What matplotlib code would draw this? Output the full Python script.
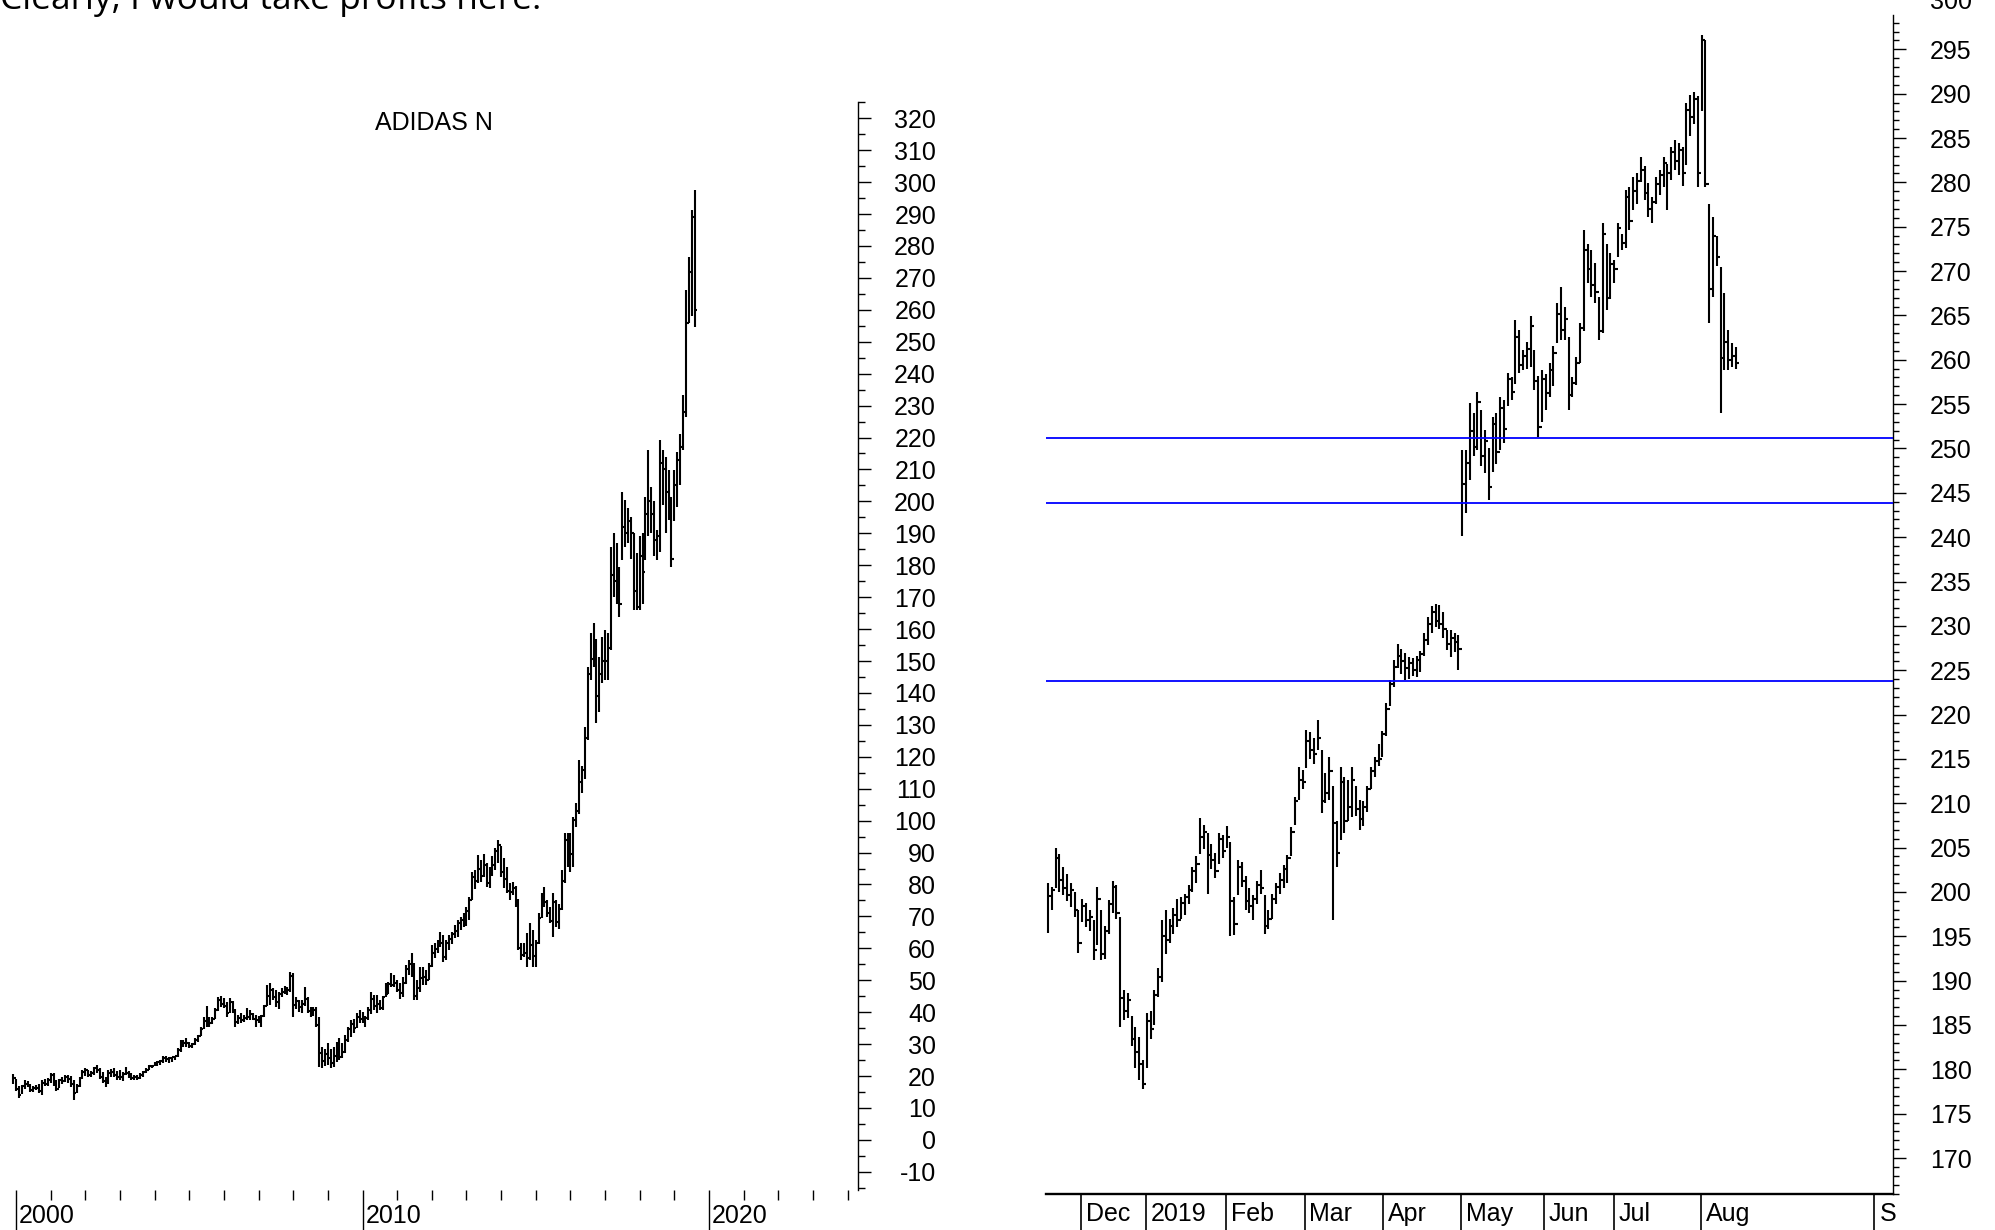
import numpy as np
import matplotlib
matplotlib.use("Agg")
import matplotlib.pyplot as plt
from matplotlib.collections import LineCollection

plt.rcParams["font.family"] = ["Liberation Sans", "DejaVu Sans"]
plt.rcParams["axes.unicode_minus"] = False

# ===== long term chart: monthly bars, Dec 1999 .. Aug 2019 =====
monthly_high = [
    20.6,
    19.0, 17.0, 17.2, 18.8, 18.3, 17.5, 16.8, 17.3, 17.6, 18.8, 19.0, 19.4,  # 2000
    20.9, 20.8, 18.8, 19.2, 19.8, 20.2, 20.4, 20.0, 18.6, 17.6, 19.8, 21.8,  # 2001
    22.4, 22.0, 21.6, 22.9, 23.4, 22.6, 21.2, 19.8, 21.9, 22.2, 22.4, 21.6,  # 2002
    21.8, 21.2, 22.9, 21.6, 20.8, 20.4, 20.3, 20.8, 21.6, 22.4, 23.4, 23.6,  # 2003
    24.4, 24.8, 25.0, 26.3, 26.2, 26.1, 26.1, 26.4, 28.7, 31.3, 31.3, 31.8,  # 2004
    30.8, 30.4, 31.8, 32.8, 35.5, 38.6, 41.9, 38.6, 38.6, 41.2, 44.6, 45.1,  # 2005
    44.4, 43.3, 44.4, 43.6, 41.0, 39.1, 39.6, 39.1, 41.2, 40.6, 39.6, 39.0,  # 2006
    38.8, 39.2, 42.2, 48.5, 49.0, 47.5, 46.8, 46.4, 47.5, 48.2, 48.0, 52.7,  # 2007
    52.4, 44.9, 43.8, 43.8, 48.0, 44.6, 41.7, 41.7, 41.7, 38.6, 29.2, 28.6,  # 2008
    30.2, 28.6, 29.2, 30.8, 31.8, 30.2, 32.8, 35.5, 37.5, 38.0, 39.6, 40.7,  # 2009
    40.2, 38.8, 41.7, 46.4, 45.4, 45.4, 43.8, 45.0, 49.0, 49.6, 52.2, 51.8,  # 2010
    50.2, 49.0, 51.0, 54.8, 56.3, 58.4, 55.3, 50.2, 54.2, 54.2, 53.2, 55.3,  # 2011
    61.0, 61.6, 62.6, 65.2, 64.2, 62.6, 64.2, 65.2, 67.3, 68.9, 69.9, 71.0,  # 2012
    73.1, 76.0, 84.0, 84.5, 89.2, 87.7, 89.7, 86.6, 85.6, 88.8, 91.3, 93.9,  # 2013
    92.0, 88.4, 85.6, 80.4, 80.9, 79.6, 75.6, 61.6, 61.6, 64.7, 67.8, 65.7,  # 2014
    62.6, 71.0, 77.2, 79.3, 75.1, 73.0, 77.2, 75.1, 74.0, 84.5, 96.0, 96.0,  # 2015
    96.0, 101.2, 105.4, 119.0, 117.0, 129.4, 148.2, 158.7, 161.8, 157.0, 151.4, 157.6,  # 2016
    159.7, 158.7, 185.8, 190.0, 187.0, 179.5, 203.0, 200.4, 198.0, 195.0, 190.0, 183.7,  # 2017
    189.0, 190.0, 201.5, 216.0, 204.6, 200.0, 191.0, 219.2, 216.0, 214.0, 209.8, 201.5,  # 2018
    209.8, 215.6, 221.0, 233.3, 266.2, 276.7, 291.3, 297.5,  # 2019
]
monthly_low = [
    17.5,
    15.2, 13.2, 14.5, 15.8, 16.5, 15.0, 15.0, 15.6, 14.8, 14.2, 16.8, 16.8,
    17.8, 17.0, 15.2, 16.2, 17.6, 18.0, 17.8, 16.6, 12.5, 14.8, 16.5, 19.0,
    20.0, 19.8, 19.8, 20.2, 21.0, 19.0, 17.8, 16.6, 17.6, 19.8, 19.6, 18.8,
    18.8, 18.3, 20.2, 19.3, 18.8, 18.8, 18.8, 19.2, 19.6, 20.8, 21.8, 22.4,
    23.0, 23.0, 23.5, 24.0, 24.5, 24.2, 24.5, 25.0, 26.0, 27.6, 29.2, 29.2,
    28.8, 28.8, 29.6, 30.8, 32.4, 34.6, 35.5, 35.5, 36.2, 37.8, 40.4, 41.7,
    41.2, 38.6, 39.8, 39.6, 35.5, 36.4, 36.5, 37.0, 37.5, 37.6, 37.5, 35.5,
    36.5, 35.5, 38.6, 41.8, 42.2, 43.8, 41.7, 41.0, 44.8, 45.6, 45.4, 46.4,
    38.6, 41.0, 40.2, 39.6, 41.8, 39.6, 38.6, 38.8, 35.5, 22.9, 22.4, 23.0,
    23.4, 22.6, 22.9, 24.5, 25.0, 25.5, 27.2, 30.8, 32.3, 33.6, 35.0, 36.5,
    36.6, 35.5, 37.5, 39.4, 40.7, 39.6, 40.6, 40.6, 44.6, 45.6, 48.0, 47.8,
    46.2, 44.2, 44.6, 48.8, 51.6, 51.1, 43.8, 43.8, 46.4, 48.4, 48.4, 50.1,
    54.3, 57.0, 58.4, 60.5, 55.8, 56.3, 59.6, 61.5, 63.1, 63.6, 65.7, 66.8,
    67.0, 69.0, 75.0, 78.6, 80.4, 80.8, 82.4, 79.3, 78.8, 82.6, 84.5, 86.6,
    82.4, 79.0, 77.2, 75.1, 76.6, 73.0, 59.5, 56.2, 57.4, 54.3, 56.3, 54.3,
    54.3, 61.5, 69.6, 73.0, 69.9, 67.8, 63.6, 66.8, 66.0, 72.0, 80.4, 85.6,
    84.0, 85.6, 98.0, 102.0, 108.5, 113.0, 125.3, 144.0, 148.2, 130.5, 134.0, 143.0,
    144.0, 144.0, 153.4, 170.0, 168.0, 163.9, 181.6, 185.8, 187.0, 182.0, 166.0, 166.0,
    166.0, 168.0, 181.6, 189.0, 190.0, 183.0, 181.6, 184.0, 199.0, 190.0, 194.2, 179.5,
    194.0, 198.3, 205.0, 216.0, 226.5, 255.8, 258.0, 254.7,
]
monthly_close = [
    19.5,
    16.0, 14.2, 16.8, 17.5, 16.8, 15.6, 16.2, 16.4, 15.2, 17.8, 17.5, 18.6,
    20.2, 17.6, 16.0, 18.6, 18.5, 19.6, 19.2, 17.4, 14.6, 16.8, 19.4, 21.2,
    21.8, 20.2, 21.0, 22.6, 22.0, 19.6, 18.4, 18.2, 20.8, 21.2, 20.2, 19.8,
    19.6, 20.6, 21.0, 20.0, 19.4, 19.6, 19.4, 20.2, 21.2, 22.0, 23.0, 23.2,
    23.8, 24.4, 24.8, 25.6, 25.2, 25.8, 26.0, 26.2, 28.2, 29.6, 30.4, 30.2,
    29.4, 30.0, 31.4, 32.4, 34.8, 37.2, 38.0, 36.6, 37.8, 40.6, 43.8, 42.6,
    42.0, 39.6, 43.2, 40.2, 37.0, 38.2, 37.4, 38.2, 38.6, 39.4, 37.8, 37.6,
    38.2, 38.8, 42.0, 45.0, 46.8, 44.6, 43.2, 45.8, 46.2, 47.6, 47.0, 51.4,
    42.4, 43.6, 41.6, 42.6, 44.2, 40.4, 39.6, 40.8, 36.0, 27.2, 24.6, 27.0,
    25.6, 24.0, 26.4, 28.4, 26.0, 27.4, 31.2, 34.6, 36.4, 35.2, 38.6, 38.0,
    37.2, 38.2, 40.6, 44.0, 42.0, 42.6, 41.2, 44.6, 45.6, 48.8, 48.6, 49.0,
    47.0, 46.0, 49.2, 53.4, 55.0, 54.2, 45.2, 47.6, 50.6, 51.0, 50.2, 54.6,
    58.6, 59.8, 61.2, 61.6, 57.2, 61.8, 62.8, 64.6, 65.4, 67.8, 68.8, 67.6,
    71.6, 75.2, 82.4, 81.2, 84.8, 82.6, 86.2, 80.6, 83.8, 86.0, 90.4, 92.4,
    84.0, 81.6, 78.0, 77.8, 78.8, 74.0, 60.0, 58.0, 58.4, 57.0, 61.0, 57.6,
    61.6, 69.6, 74.2, 74.6, 71.2, 68.6, 74.6, 68.4, 72.4, 81.2, 94.0, 90.0,
    89.6, 100.2, 103.0, 112.0, 116.0, 126.0, 146.0, 150.6, 154.6, 139.0, 146.0, 150.0,
    150.0, 154.0, 177.0, 175.0, 178.0, 168.0, 192.0, 190.0, 194.0, 190.0, 172.0, 167.0,
    183.0, 178.0, 196.0, 200.0, 196.0, 188.0, 189.0, 212.0, 210.0, 203.0, 201.0, 182.0,
    205.0, 213.0, 217.0, 228.0, 256.0, 272.0, 289.0, 260.0,
]
year_labels = ["2000", "2010", "2020"]
year_label_months = [0, 120, 240]      # months after Jan 2000
left_yticks = list(range(-10, 321, 10))

# ===== short term chart: daily bars, 20 Nov 2018 .. 13 Aug 2019 =====
daily_high = [
    201.0, 200.6, 204.9, 204.3, 202.8, 202.0, 201.0, 200.0, 198.0, 199.2,
    198.8, 198.0, 196.8, 200.6, 198.0, 196.2, 199.1, 201.2, 200.8, 197.2,
    188.9, 188.6, 186.0, 184.8, 183.6, 181.0, 186.3, 186.6, 189.0, 191.4,
    196.8, 198.0, 197.0, 198.2, 199.2, 199.4, 199.8, 200.8, 202.8, 204.0,
    208.3, 207.5, 206.6, 205.4, 204.4, 206.6, 206.4, 207.4, 205.6, 199.4,
    203.6, 203.4, 201.8, 200.4, 199.6, 201.2, 202.5, 199.6, 198.0, 199.8,
    201.0, 202.1, 203.0, 204.2, 207.3, 210.7, 214.1, 213.8, 218.3, 218.0,
    217.4, 219.4, 216.0, 213.4, 215.2, 211.9, 208.0, 214.1, 213.0, 212.6,
    214.1, 212.0, 210.4, 210.2, 212.0, 214.1, 215.2, 216.7, 218.2, 221.3,
    223.9, 226.1, 228.0, 227.4, 226.9, 226.5, 226.4, 226.6, 227.2, 229.2,
    231.0, 232.2, 232.5, 232.3, 231.6, 229.5, 229.5, 229.2, 229.0,
    249.8, 249.8, 255.1, 254.0, 256.4, 254.3, 252.1, 250.0, 253.6, 254.0,
    255.8, 255.5, 258.5, 258.0, 264.5, 263.4, 261.1, 262.0, 264.9, 261.1,
    258.2, 258.9, 258.4, 259.6, 261.5, 266.4, 268.2, 266.0, 262.6, 258.1,
    260.3, 264.1, 274.6, 273.1, 272.4, 270.9, 267.1, 275.4, 273.1, 272.0,
    271.2, 275.4, 274.2, 279.1, 279.5, 280.6, 281.0, 282.9, 281.8, 279.9,
    278.4, 280.6, 281.4, 282.9, 282.1, 284.0, 284.8, 284.4, 284.0, 288.9,
    289.9, 290.2, 289.7, 296.6, 296.0, 277.6, 276.1, 273.9, 270.5, 267.5,
    263.4, 261.9, 261.4,
]
daily_low = [
    195.4, 198.0, 200.4, 200.0, 199.6, 199.0, 198.3, 197.2, 193.1, 196.6,
    196.0, 195.6, 192.3, 194.0, 192.3, 192.4, 195.3, 197.6, 197.0, 184.8,
    185.6, 185.8, 182.6, 180.2, 178.8, 177.8, 180.2, 183.4, 185.0, 188.2,
    189.8, 193.0, 194.2, 195.3, 196.0, 197.0, 197.4, 198.6, 200.0, 201.0,
    204.3, 204.8, 199.8, 202.6, 201.6, 203.2, 203.8, 205.0, 195.0, 195.2,
    199.6, 200.6, 198.0, 197.6, 196.8, 198.6, 199.8, 195.3, 195.8, 197.0,
    198.6, 199.8, 200.4, 201.0, 204.0, 207.6, 210.4, 211.6, 214.0, 215.0,
    214.4, 216.0, 208.9, 210.0, 210.4, 196.8, 202.8, 205.8, 206.6, 208.0,
    208.5, 208.6, 207.0, 207.4, 209.0, 211.6, 213.0, 214.2, 215.2, 217.6,
    221.0, 223.1, 225.2, 224.6, 223.9, 224.0, 224.4, 224.2, 224.8, 226.6,
    227.8, 229.2, 229.9, 229.6, 228.6, 227.3, 226.5, 227.0, 225.0,
    240.1, 242.7, 246.4, 249.1, 249.8, 248.0, 247.2, 244.2, 247.4, 248.3,
    249.8, 250.6, 254.8, 255.5, 257.3, 258.5, 258.9, 259.0, 259.2, 256.6,
    251.3, 253.0, 254.3, 255.8, 257.0, 261.9, 262.2, 262.2, 254.3, 255.8,
    257.2, 259.6, 263.2, 268.6, 267.1, 266.4, 262.2, 263.0, 265.6, 266.8,
    268.6, 271.6, 272.4, 272.6, 274.6, 276.9, 277.6, 280.0, 278.0, 276.1,
    275.4, 277.6, 278.6, 279.5, 276.9, 280.3, 281.4, 280.8, 279.6, 282.0,
    285.2, 286.6, 279.5, 288.0, 279.5, 264.1, 267.1, 270.6, 254.0, 258.9,
    258.9, 259.2, 259.0,
]
daily_close = [
    199.5, 200.2, 203.8, 201.4, 200.4, 199.6, 200.2, 198.0, 194.2, 198.4,
    196.8, 197.2, 193.4, 199.2, 193.0, 195.6, 198.6, 200.6, 197.6, 188.0,
    186.6, 187.8, 183.4, 182.0, 180.6, 178.4, 185.4, 184.6, 188.4, 190.4,
    195.0, 194.6, 196.2, 197.4, 196.8, 198.8, 199.4, 200.2, 202.4, 203.2,
    206.2, 206.8, 204.2, 203.6, 202.4, 206.0, 204.6, 206.2, 199.0, 196.4,
    202.8, 201.2, 199.0, 198.4, 199.2, 200.8, 200.4, 196.2, 197.0, 199.2,
    200.6, 201.4, 202.6, 203.8, 206.8, 210.2, 212.6, 212.4, 217.0, 216.0,
    215.6, 217.4, 210.2, 211.2, 213.6, 207.8, 204.4, 212.4, 208.0, 209.6,
    212.6, 209.4, 208.2, 209.6, 211.6, 213.6, 214.8, 215.0, 217.8, 220.6,
    223.4, 225.4, 226.6, 226.0, 225.2, 225.8, 225.0, 226.2, 226.8, 228.4,
    230.2, 231.6, 230.6, 230.2, 229.6, 228.0, 228.6, 228.2, 227.4,
    246.0, 248.4, 252.0, 250.2, 255.2, 249.2, 250.8, 245.6, 252.8, 249.6,
    254.6, 252.2, 257.8, 256.4, 262.6, 259.4, 260.4, 261.2, 263.8, 257.6,
    252.4, 257.8, 256.2, 258.8, 260.8, 265.2, 263.4, 264.6, 256.0, 257.4,
    259.6, 263.6, 272.4, 270.2, 268.4, 267.6, 263.2, 274.2, 267.0, 270.8,
    270.2, 274.8, 273.2, 278.4, 275.6, 279.0, 280.2, 281.4, 278.8, 277.0,
    277.8, 279.8, 280.8, 282.2, 281.0, 283.4, 282.4, 283.6, 281.0, 288.2,
    287.4, 289.4, 281.0, 296.0, 279.8, 268.0, 274.0, 271.6, 260.2, 262.0,
    260.0, 260.4, 259.6,
]
month_labels = ["Dec", "2019", "Feb", "Mar", "Apr", "May", "Jun", "Jul", "Aug", "S"]
month_ticks = [8.7, 25.7, 46.9, 67.5, 88.2, 108.8, 130.5, 149.0, 171.9, 217.5]
support_levels = [251.2, 243.9, 223.8]
right_yticks = list(range(170, 296, 5))

W, H = 1995, 1230
fig = plt.figure(figsize=(W / 100, H / 100), dpi=100)
fig.patch.set_facecolor("white")


def px_box(x0, y0, x1, y1):
    return [x0 / W, 1 - y1 / H, (x1 - x0) / W, (y1 - y0) / H]


def draw_bars(ax, xs, hi, lo, cl, tick, lw):
    segs = []
    for x, h, l, c in zip(xs, hi, lo, cl):
        segs.append([(x, l), (x, h)])
        segs.append([(x, c), (x + tick, c)])
    ax.add_collection(LineCollection(segs, colors="black", linewidths=lw, zorder=2))


# ---------- left: long term ----------
ax1 = fig.add_axes(px_box(0, 102, 858, 1190))
months = np.arange(len(monthly_close)) - 1
draw_bars(ax1, months, monthly_high, monthly_low, monthly_close, 0.9, 1.5)
ax1.set_xlim(-5.54, 291.6)
ax1.set_ylim(-15.7, 325.1)
for side in ["top", "left", "bottom"]:
    ax1.spines[side].set_visible(False)
ax1.spines["right"].set_linewidth(1.0)

ax1.yaxis.tick_right()
ax1.set_yticks(left_yticks, [str(v) for v in left_yticks])
ax1.set_yticks(list(range(-15, 326, 10)), minor=True)
ax1.tick_params(axis="y", which="major", direction="out", length=9.4, width=1.0,
                pad=46.8, labelsize=18, right=True, left=False,
                labelright=True, labelleft=False)
ax1.tick_params(axis="y", which="minor", direction="out", length=5, width=1.0,
                right=True, left=False)
for t in ax1.get_yticklabels():
    t.set_horizontalalignment("right")

ax1.set_xticks(year_label_months, ["", "", ""])
ax1.set_xticks([12 * k for k in range(1, 25) if k % 10 != 0], minor=True)
ax1.tick_params(axis="x", which="major", direction="out", length=28.8, width=1.0,
                labelbottom=False)
ax1.tick_params(axis="x", which="minor", direction="out", length=7.2, width=1.0)
for m, lab in zip(year_label_months, year_labels):
    ax1.annotate(lab, xy=(m, 0), xycoords=("data", "axes fraction"),
                 xytext=(2.3, -18.5), textcoords="offset points",
                 ha="left", va="center", fontsize=18, annotation_clip=False)

fig.text(434 / W, 1 - 123 / H, "ADIDAS N", ha="center", va="center", fontsize=18)

# ---------- right: short term ----------
ax2 = fig.add_axes(px_box(1046, 15, 1893, 1194.3))
days = np.arange(len(daily_close))
draw_bars(ax2, days, daily_high, daily_low, daily_close, 0.9, 1.5)
for lvl in support_levels:
    ax2.axhline(lvl, color="#0000ff", linewidth=1.3, zorder=3)
ax2.set_xlim(-0.53, 222.37)
ax2.set_ylim(165.91, 298.87)
for side in ["top", "left"]:
    ax2.spines[side].set_visible(False)
ax2.spines["right"].set_linewidth(1.0)
ax2.spines["bottom"].set_linewidth(1.7)

ax2.yaxis.tick_right()
ax2.set_yticks(right_yticks, [str(v) for v in right_yticks])
ax2.set_yticks(list(range(166, 299)), minor=True)
ax2.tick_params(axis="y", which="major", direction="out", length=9.4, width=1.0,
                pad=17.3, labelsize=18, right=True, left=False,
                labelright=True, labelleft=False)
ax2.tick_params(axis="y", which="minor", direction="out", length=4.3, width=1.0,
                right=True, left=False)
# top label sits partly above the picture edge, as in the screenshot
ax2.annotate("300", xy=(1, 300), xycoords=("axes fraction", "data"),
             xytext=(26.7, 4), textcoords="offset points", ha="left",
             va="center_baseline", fontsize=18, annotation_clip=False)

ax2.set_xticks(month_ticks, [""] * len(month_ticks))
ax2.tick_params(axis="x", which="major", direction="out", length=26, width=1.2,
                labelbottom=False)
for pos, lab in zip(month_ticks, month_labels):
    ax2.annotate(lab, xy=(pos, 0), xycoords=("data", "axes fraction"),
                 xytext=(3.5, -14), textcoords="offset points",
                 ha="left", va="center", fontsize=18, annotation_clip=False)

fig.text(0, 1 - 9 / H, "Clearly, I would take profits here.", ha="left",
         va="baseline", fontsize=25.5, family=["Open Sans", "DejaVu Sans"])

fig.savefig("out.png", dpi=100, facecolor="white")
plt.close(fig)
